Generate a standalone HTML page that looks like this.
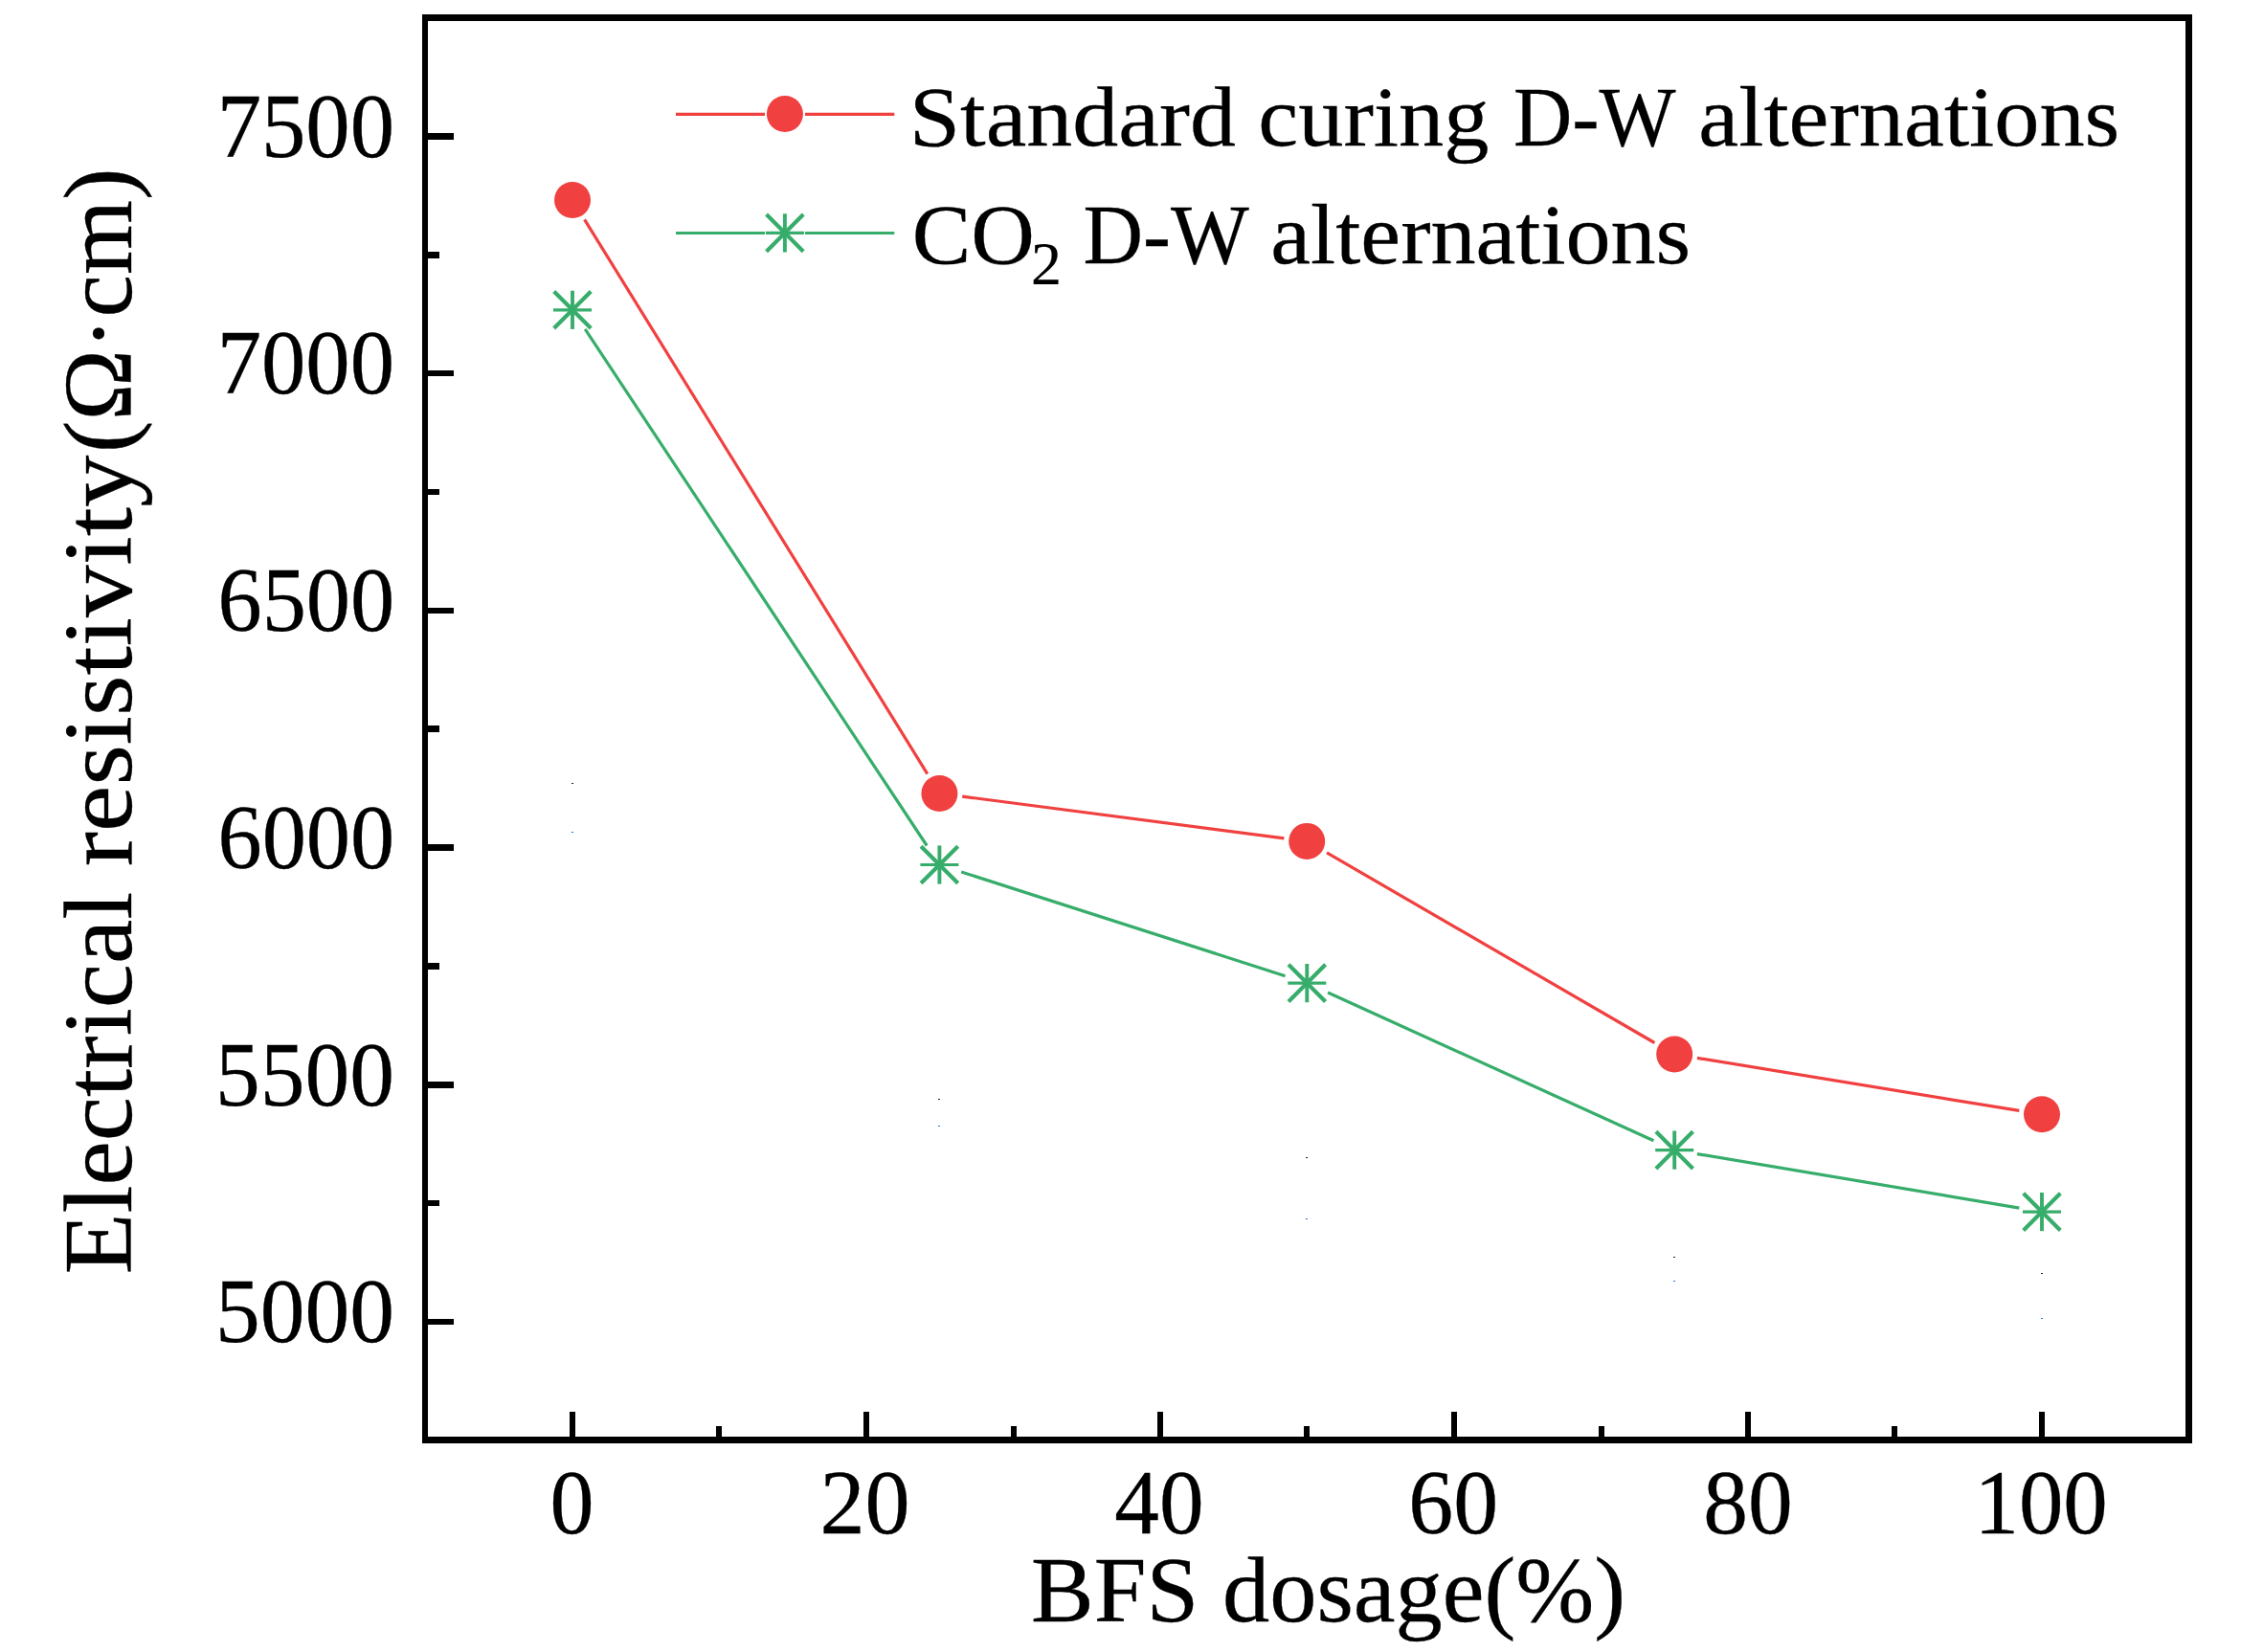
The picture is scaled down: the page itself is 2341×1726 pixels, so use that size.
<!DOCTYPE html>
<html lang="en">
<head>
<meta charset="utf-8">
<title>Electrical resistivity vs BFS dosage</title>
<style>
html,body{margin:0;padding:0;background:#fff;}
body{width:2341px;height:1726px;overflow:hidden;}
svg{display:block;}
text{font-family:"Liberation Serif","DejaVu Serif",serif;font-size:92px;fill:#000;stroke:#000;stroke-width:0.3px;}
</style>
</head>
<body>
<svg width="2341" height="1726" viewBox="0 0 2341 1726">
<rect x="0" y="0" width="2341" height="1726" fill="#fff"/>

<g fill="#000" shape-rendering="crispEdges">
<rect x="441" y="15" width="6" height="1493"/>
<rect x="2283" y="15" width="7" height="1493"/>
<rect x="441" y="15" width="1849" height="7"/>
<rect x="441" y="1501" width="1849" height="7"/>
<rect x="447" y="1378" width="27" height="6"/>
<rect x="447" y="1130" width="27" height="7"/>
<rect x="447" y="882" width="27" height="7"/>
<rect x="447" y="635" width="27" height="6"/>
<rect x="447" y="387" width="27" height="6"/>
<rect x="447" y="139" width="27" height="7"/>
<rect x="447" y="1254" width="12" height="6"/>
<rect x="447" y="1006" width="12" height="7"/>
<rect x="447" y="758" width="12" height="7"/>
<rect x="447" y="511" width="12" height="6"/>
<rect x="447" y="263" width="12" height="7"/>
<rect x="595" y="1475" width="6" height="26"/>
<rect x="902" y="1475" width="6" height="26"/>
<rect x="1209" y="1475" width="6" height="26"/>
<rect x="1516" y="1475" width="6" height="26"/>
<rect x="1823" y="1475" width="6" height="26"/>
<rect x="2130" y="1475" width="6" height="26"/>
<rect x="748" y="1490" width="6" height="11"/>
<rect x="1056" y="1490" width="6" height="11"/>
<rect x="1362" y="1490" width="6" height="11"/>
<rect x="1670" y="1490" width="6" height="11"/>
<rect x="1976" y="1490" width="6" height="11"/>
</g>
<g stroke="#F14040" stroke-width="3.2" fill="none">
<line x1="610.6" y1="229.4" x2="968.8" y2="808.6"/>
<line x1="1005.2" y1="832.1" x2="1341.4" y2="875.8"/>
<line x1="1386.0" y1="890.9" x2="1728.4" y2="1089.5"/>
<line x1="1772.9" y1="1105.4" x2="2109.3" y2="1160.4"/>
<line x1="706" y1="119.4" x2="799" y2="119.4"/><line x1="841" y1="119.4" x2="934.3" y2="119.4"/>
</g>
<g fill="#F14040">
<circle cx="598" cy="209" r="19"/>
<circle cx="981.4" cy="829" r="19"/>
<circle cx="1365.2" cy="878.9" r="19"/>
<circle cx="1749.2" cy="1101.5" r="19"/>
<circle cx="2133" cy="1164.3" r="19"/>
<circle cx="819.9" cy="119" r="19"/>
</g>
<g stroke="#37AD6B" stroke-width="3.2" fill="none">
<line x1="611.2" y1="343.8" x2="968.2" y2="883.5"/>
<line x1="1004.2" y1="910.9" x2="1342.5" y2="1019.7"/>
<line x1="1387.1" y1="1037.0" x2="1727.4" y2="1191.7"/>
<line x1="1772.9" y1="1205.6" x2="2109.3" y2="1262.1"/>
<line x1="706" y1="243.5" x2="799" y2="243.5"/><line x1="841" y1="243.5" x2="934.3" y2="243.5"/>
</g>
<g stroke="#37AD6B" fill="none"><path d="M578.0 323.8H618.0" stroke-width="3.2"/><path d="M598.0 303.7V343.9" stroke-width="3.9"/><path d="M578.7 304.5L617.3 343.1M578.7 343.1L617.3 304.5" stroke-width="4.2"/></g>
<g stroke="#37AD6B" fill="none"><path d="M961.4 903.5H1001.4" stroke-width="3.2"/><path d="M981.4 883.4V923.6" stroke-width="3.9"/><path d="M962.1 884.2L1000.7 922.8M962.1 922.8L1000.7 884.2" stroke-width="4.2"/></g>
<g stroke="#37AD6B" fill="none"><path d="M1345.3 1027.1H1385.3" stroke-width="3.2"/><path d="M1365.3 1007.0V1047.2" stroke-width="3.9"/><path d="M1346.0 1007.8L1384.6 1046.4M1346.0 1046.4L1384.6 1007.8" stroke-width="4.2"/></g>
<g stroke="#37AD6B" fill="none"><path d="M1729.2 1201.6H1769.2" stroke-width="3.2"/><path d="M1749.2 1181.5V1221.7" stroke-width="3.9"/><path d="M1729.9 1182.3L1768.5 1220.9M1729.9 1220.9L1768.5 1182.3" stroke-width="4.2"/></g>
<g stroke="#37AD6B" fill="none"><path d="M2113.0 1266.1H2153.0" stroke-width="3.2"/><path d="M2133.0 1246.0V1286.2" stroke-width="3.9"/><path d="M2113.7 1246.8L2152.3 1285.4M2113.7 1285.4L2152.3 1246.8" stroke-width="4.2"/></g>
<g stroke="#37AD6B" fill="none"><path d="M799.9 243.4H839.9" stroke-width="3.2"/><path d="M819.9 223.3V263.5" stroke-width="3.9"/><path d="M800.6 224.1L839.2 262.7M800.6 262.7L839.2 224.1" stroke-width="4.2"/></g>
<g shape-rendering="crispEdges">
<rect x="597" y="818" width="2" height="1" fill="#222"/><rect x="597" y="869" width="2" height="1" fill="#1A6FDF"/>
<rect x="980" y="1148" width="2" height="1" fill="#222"/><rect x="980" y="1176" width="2" height="1" fill="#1A6FDF"/>
<rect x="1364" y="1209" width="2" height="1" fill="#222"/><rect x="1364" y="1273" width="2" height="1" fill="#1A6FDF"/>
<rect x="1748" y="1313" width="2" height="1" fill="#222"/><rect x="1748" y="1338" width="2" height="1" fill="#1A6FDF"/>
<rect x="2132" y="1330" width="2" height="1" fill="#222"/><rect x="2132" y="1377" width="2" height="1" fill="#1A6FDF"/>
</g>
<g>
<text transform="translate(226.66,163.70) scale(1.0074,1.0300)">7500</text>
<text transform="translate(226.66,411.42) scale(1.0074,1.0300)">7000</text>
<text transform="translate(227.48,659.14) scale(1.0040,1.0300)">6500</text>
<text transform="translate(227.48,906.86) scale(1.0040,1.0300)">6000</text>
<text transform="translate(225.12,1154.58) scale(1.0159,1.0300)">5500</text>
<text transform="translate(225.12,1402.30) scale(1.0159,1.0300)">5000</text>
<text transform="translate(574.50,1602.20) scale(1.0000,1.0300)">0</text>
<text transform="translate(856.51,1602.20) scale(1.0235,1.0300)">20</text>
<text transform="translate(1164.27,1602.20) scale(1.0149,1.0300)">40</text>
<text transform="translate(1471.22,1602.20) scale(1.0200,1.0300)">60</text>
<text transform="translate(1779.25,1602.20) scale(1.0151,1.0300)">80</text>
<text transform="translate(2062.42,1602.20) scale(1.0102,1.0300)">100</text>
<text transform="translate(1077.06,1693.60) scale(1.0707,1.0520)">BFS dosage(%)</text>
<text transform="translate(949.74,151.60) scale(1.0431,0.9550)">Standard</text>
<text transform="translate(1314.22,151.60) scale(1.0270,0.9550)">curing</text>
<text transform="translate(1580.96,151.60) scale(0.9220,0.9550)">D-W</text>
<text transform="translate(1774.32,151.60) scale(1.0253,0.9550)">alternations</text>
<text transform="translate(952.69,275.20) scale(1.0025,0.9550)">CO</text>
<text transform="translate(1131.52,275.20) scale(0.9418,0.9550)">D-W</text>
<text transform="translate(1327.33,275.20) scale(1.0229,0.9550)">alternations</text>
<text transform="translate(1077.02,296.60) scale(0.6946,0.6787)">2</text>
<text transform="translate(137.00,1331.27) rotate(-90) scale(1.1341,1.1000)">Electrical</text>
<text transform="translate(137.00,905.27) rotate(-90) scale(1.1848,1.1000)">resistivity</text>
<text transform="translate(137.00,472.96) rotate(-90) scale(1.0902,1.1000)">(Ω·cm)</text>
</g>
</svg>
</body>
</html>
